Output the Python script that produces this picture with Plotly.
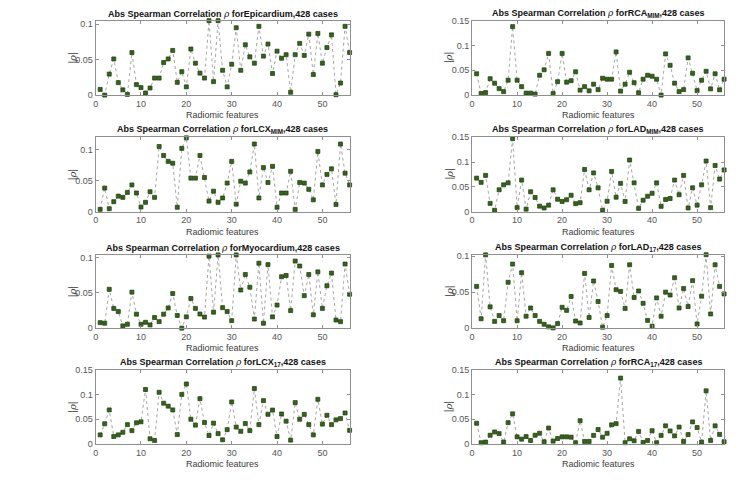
import plotly.graph_objects as go

features = list(range(1, 57))

epicardium = [0.008, 0.0, 0.0296, 0.051, 0.0176, 0.0074, 0.001, 0.060, 0.0148, 0.0106,
              0.003, 0.010, 0.024, 0.024, 0.046, 0.051, 0.063, 0.018, 0.033, 0.0116,
              0.065, 0.045, 0.031, 0.024, 0.105, 0.019, 0.105, 0.035, 0.0116, 0.0435,
              0.095, 0.035, 0.071, 0.054, 0.045, 0.097, 0.055, 0.072, 0.0305, 0.062,
              0.052, 0.057, 0.004, 0.057, 0.073, 0.056, 0.086, 0.029, 0.087, 0.045,
              0.067, 0.085, 0.0005, 0.017, 0.097, 0.060]

rca_mim = [0.043, 0.0033, 0.005, 0.033, 0.024, 0.013, 0.007, 0.030, 0.138, 0.030,
           0.017, 0.004, 0.004, 0.002, 0.040, 0.051, 0.084, 0.003, 0.027, 0.084,
           0.026, 0.029, 0.047, 0.010, 0.017, 0.0086, 0.022, 0.011, 0.034, 0.032,
           0.032, 0.087, 0.008, 0.022, 0.046, 0.025, 0.0046, 0.032, 0.040, 0.038,
           0.032, 0.0, 0.083, 0.060, 0.024, 0.007, 0.011, 0.075, 0.044, 0.009,
           0.030, 0.048, 0.0125, 0.043, 0.0106, 0.032]

lcx_mim = [0.0037, 0.038, 0.0047, 0.016, 0.025, 0.023, 0.031, 0.043, 0.030, 0.0074,
           0.015, 0.032, 0.023, 0.105, 0.0905, 0.081, 0.078, 0.007, 0.102, 0.119,
           0.054, 0.054, 0.0905, 0.055, 0.017, 0.033, 0.015, 0.022, 0.046, 0.081,
           0.012, 0.049, 0.046, 0.064, 0.109, 0.022, 0.071, 0.047, 0.073, 0.007,
           0.030, 0.030, 0.065, 0.0037, 0.047, 0.046, 0.036, 0.019, 0.097, 0.043,
           0.060, 0.069, 0.0116, 0.109, 0.062, 0.043]

lad_mim = [0.0675, 0.059, 0.073, 0.0166, 0.0026, 0.044, 0.054, 0.058, 0.147, 0.008,
           0.0636, 0.005, 0.040, 0.0285, 0.011, 0.0073, 0.013, 0.044, 0.025, 0.0205,
           0.024, 0.033, 0.016, 0.018, 0.085, 0.044, 0.078, 0.048, 0.0026, 0.021,
           0.081, 0.029, 0.057, 0.0205, 0.104, 0.058, 0.0066, 0.023, 0.031, 0.037,
           0.058, 0.0106, 0.0245, 0.0265, 0.0636, 0.034, 0.073, 0.0073, 0.048, 0.013,
           0.054, 0.102, 0.008, 0.093, 0.0656, 0.084]

myocardium = [0.0078, 0.007, 0.055, 0.028, 0.0235, 0.0032, 0.0055, 0.051, 0.0198, 0.0055,
              0.0083, 0.0046, 0.015, 0.0092, 0.0198, 0.0286, 0.049, 0.018, 0.0, 0.016,
              0.042, 0.028, 0.020, 0.0157, 0.102, 0.0226, 0.1037, 0.029, 0.0235, 0.0106,
              0.1037, 0.054, 0.076, 0.058, 0.0129, 0.092, 0.007, 0.090, 0.016, 0.0327,
              0.0728, 0.0746, 0.0249, 0.095, 0.088, 0.046, 0.076, 0.0189, 0.0797, 0.028,
              0.060, 0.078, 0.0115, 0.0092, 0.0908, 0.048]

lad_17 = [0.058, 0.013, 0.1018, 0.0296, 0.0094, 0.0175, 0.0103, 0.0637, 0.089, 0.0103,
          0.077, 0.0166, 0.028, 0.0175, 0.0094, 0.0054, 0.0018, 0.0004, 0.0063, 0.029,
          0.0247, 0.044, 0.0099, 0.0072, 0.076, 0.0148, 0.0655, 0.037, 0.0013, 0.0175,
          0.087, 0.0534, 0.051, 0.0274, 0.088, 0.0426, 0.0516, 0.0345, 0.0108, 0.0027,
          0.042, 0.0166, 0.050, 0.046, 0.070, 0.028, 0.055, 0.030, 0.066, 0.0058,
          0.0444, 0.102, 0.0197, 0.088, 0.058, 0.0475]

lcx_17 = [0.018, 0.0407, 0.069, 0.0147, 0.018, 0.0233, 0.039, 0.0267, 0.0427, 0.0447,
          0.1107, 0.010, 0.0067, 0.105, 0.0827, 0.0767, 0.069, 0.0187, 0.1007, 0.122,
          0.050, 0.038, 0.092, 0.0433, 0.0167, 0.042, 0.0207, 0.008, 0.0287, 0.0853,
          0.034, 0.0253, 0.0413, 0.0267, 0.1127, 0.039, 0.088, 0.060, 0.0687, 0.0147,
          0.0607, 0.046, 0.0073, 0.084, 0.050, 0.060, 0.039, 0.018, 0.0907, 0.040,
          0.058, 0.039, 0.0487, 0.0513, 0.0627, 0.0273]

rca_17 = [0.0418, 0.002, 0.0033, 0.0173, 0.024, 0.0206, 0.0033, 0.043, 0.061, 0.014,
          0.0093, 0.0146, 0.0066, 0.0173, 0.0213, 0.004, 0.032, 0.0053, 0.0106, 0.014,
          0.014, 0.0133, 0.002, 0.047, 0.0046, 0.0046, 0.017, 0.029, 0.0133, 0.0212,
          0.0385, 0.041, 0.134, 0.002, 0.010, 0.006, 0.025, 0.0027, 0.0066, 0.0265,
          0.002, 0.017, 0.0365, 0.026, 0.016, 0.034, 0.0046, 0.0186, 0.0445, 0.033,
          0.0033, 0.108, 0.0066, 0.0365, 0.019, 0.004]

x_ticks = [0, 10, 20, 30, 40, 50]

RHO = "<span style=\"font-family:'DejaVu Serif';font-weight:normal\"><i>ρ</i></span>"
PRE = "Abs Spearman Correlation " + RHO + " for"

panels = [
    (PRE + "Epicardium,428 cases", epicardium, [0, 0.105], [0, 0.05, 0.1], ["0", "0.05", "0.1"], 0, 0),
    (PRE + "RCA<sub>MIM</sub>,428 cases", rca_mim, [0, 0.15], [0, 0.05, 0.1, 0.15], ["0", "0.05", "0.1", "0.15"], 0, 1),
    (PRE + "LCX<sub>MIM</sub>,428 cases", lcx_mim, [0, 0.12], [0, 0.05, 0.1], ["0", "0.05", "0.1"], 1, 0),
    (PRE + "LAD<sub>MIM</sub>,428 cases", lad_mim, [0, 0.15], [0, 0.05, 0.1, 0.15], ["0", "0.05", "0.1", "0.15"], 1, 1),
    (PRE + "Myocardium,428 cases", myocardium, [0, 0.104], [0, 0.05, 0.1], ["0", "0.05", "0.1"], 2, 0),
    (PRE + "LAD<sub>17</sub>,428 cases", lad_17, [0, 0.102], [0, 0.05, 0.1], ["0", "0.05", "0.1"], 2, 1),
    (PRE + "LCX<sub>17</sub>,428 cases", lcx_17, [0, 0.15], [0, 0.05, 0.1, 0.15], ["0", "0.05", "0.1", "0.15"], 3, 0),
    (PRE + "RCA<sub>17</sub>,428 cases", rca_17, [0, 0.15], [0, 0.05, 0.1, 0.15], ["0", "0.05", "0.1", "0.15"], 3, 1),
]

W, H = 750, 482
col_px = [(93, 348), (471, 724)]
row_px = [(16, 92), (135, 211), (255, 330), (373, 448)]

fig = go.Figure()
annotations = []
AX_COLOR = "#8f8f8f"
TXT = "#3a3a3a"
FONT = "Liberation Sans, Arial, sans-serif"

for i, (title, vals, yr, yt, ytl, r, c) in enumerate(panels):
    n = i + 1
    xs = "" if n == 1 else str(n)
    x0, x1 = col_px[c]
    t0, t1 = row_px[r]
    xd = [x0 / W, x1 / W]
    yd = [1 - t1 / H, 1 - t0 / H]
    fig.add_trace(go.Scatter(
        x=features, y=vals, mode="lines+markers",
        xaxis="x" + xs, yaxis="y" + xs, cliponaxis=False, showlegend=False,
        line=dict(color="#a6a6a6", width=1, dash="dot"),
        marker=dict(symbol="square", size=4, color="#33651a",
                    line=dict(color="#1c3a0c", width=0.7)),
    ))
    common = dict(showline=True, linecolor=AX_COLOR, linewidth=1, mirror="ticks",
                  ticks="inside", ticklen=3, tickcolor=AX_COLOR, showgrid=False,
                  zeroline=False, tickfont=dict(family=FONT, size=9, color="#555555"),
                  fixedrange=True)
    fig.layout["xaxis" + xs] = dict(domain=xd, range=[0, 56], tickvals=x_ticks,
                                    anchor="y" + xs, **common)
    fig.layout["yaxis" + xs] = dict(domain=yd, range=yr, tickvals=yt, ticktext=ytl,
                                    anchor="x" + xs, **common)
    cx = (x0 + x1) / 2 / W
    annotations.append(dict(text="<b>" + title + "</b>", x=cx, y=yd[1], xref="paper", yref="paper",
                            xanchor="center", yanchor="bottom", yshift=0, showarrow=False,
                            font=dict(family=FONT, size=9, color="#111111")))
    annotations.append(dict(text="Radiomic features", x=cx, y=yd[0], xref="paper", yref="paper",
                            xanchor="center", yanchor="top", yshift=-13, showarrow=False,
                            font=dict(family=FONT, size=9, color=TXT)))
    annotations.append(dict(text="|" + "<span style=\"font-family:'DejaVu Serif'\"><i>ρ</i></span>" + "|",
                            x=(x0 - 23) / W, y=(yd[0] + yd[1]) / 2, xref="paper", yref="paper",
                            xanchor="center", yanchor="middle", textangle=-90, showarrow=False,
                            font=dict(family=FONT, size=10, color=TXT)))

fig.update_layout(width=W, height=H, margin=dict(l=0, r=0, t=0, b=0),
                  paper_bgcolor="white", plot_bgcolor="white",
                  annotations=annotations)

fig.write_html("out.html", config={"displayModeBar": False},
               post_script="document.body.style.margin='0';")
